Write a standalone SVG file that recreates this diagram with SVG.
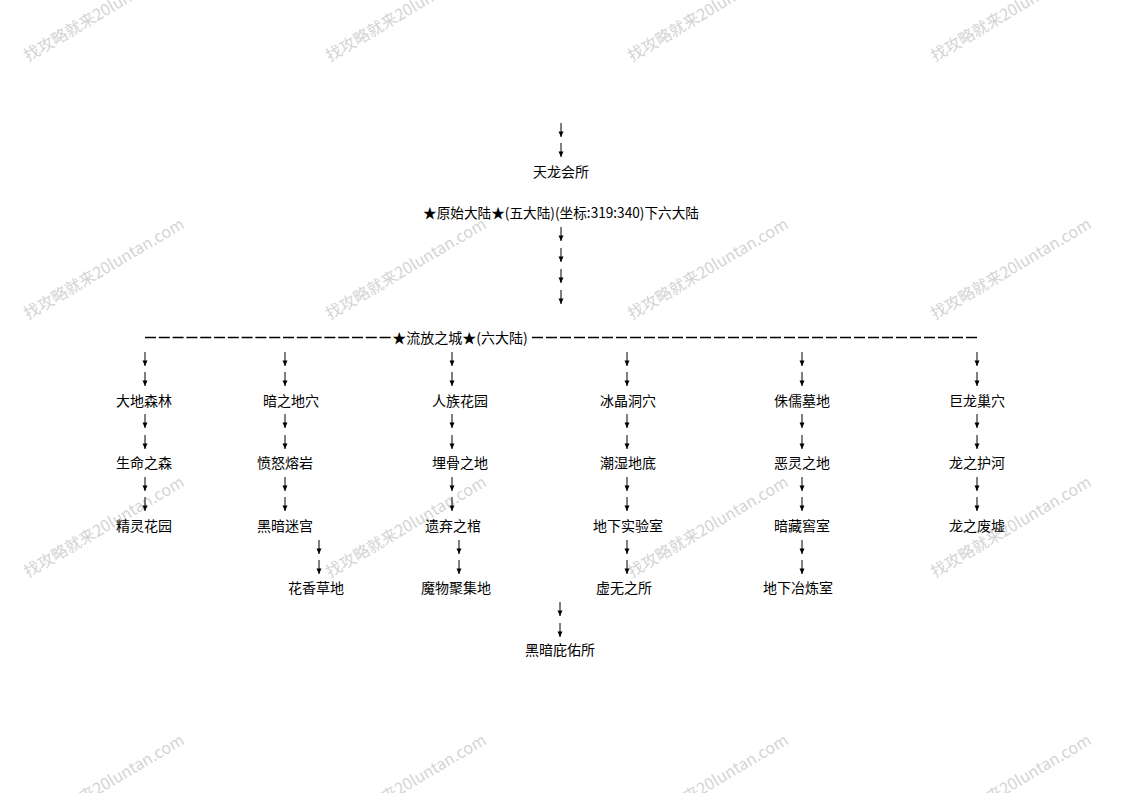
<svg xmlns="http://www.w3.org/2000/svg" xmlns:xlink="http://www.w3.org/1999/xlink" width="1122" height="793" viewBox="0 0 1122 793">
<style>
.lbl{font-family:"Noto Sans CJK SC","Liberation Sans",sans-serif;font-size:14px;fill:#000;text-anchor:middle}
.wm{font-family:"Noto Sans CJK SC","Liberation Sans",sans-serif;font-size:16px;fill:#d4d4d4}
.dash{stroke:#000;stroke-width:1.3;fill:none}
</style>
<defs>
<g id="arr"><path d="M0,0V14" stroke="#000" stroke-width="1"/><path d="M-2.5,8.5H2.5L0,14Z" fill="#000"/></g>
</defs>
<rect width="1122" height="793" fill="#fff"/>
<g id="watermarks">
<text class="wm" transform="translate(28,62) rotate(-30.5)">找攻略就来20luntan.com</text>
<text class="wm" transform="translate(330,62) rotate(-30.5)">找攻略就来20luntan.com</text>
<text class="wm" transform="translate(632,62) rotate(-30.5)">找攻略就来20luntan.com</text>
<text class="wm" transform="translate(935,62) rotate(-30.5)">找攻略就来20luntan.com</text>
<text class="wm" transform="translate(28,320) rotate(-30.5)">找攻略就来20luntan.com</text>
<text class="wm" transform="translate(330,320) rotate(-30.5)">找攻略就来20luntan.com</text>
<text class="wm" transform="translate(632,320) rotate(-30.5)">找攻略就来20luntan.com</text>
<text class="wm" transform="translate(935,320) rotate(-30.5)">找攻略就来20luntan.com</text>
<text class="wm" transform="translate(28,578) rotate(-30.5)">找攻略就来20luntan.com</text>
<text class="wm" transform="translate(330,578) rotate(-30.5)">找攻略就来20luntan.com</text>
<text class="wm" transform="translate(632,578) rotate(-30.5)">找攻略就来20luntan.com</text>
<text class="wm" transform="translate(935,578) rotate(-30.5)">找攻略就来20luntan.com</text>
<text class="wm" transform="translate(28,836) rotate(-30.5)">找攻略就来20luntan.com</text>
<text class="wm" transform="translate(330,836) rotate(-30.5)">找攻略就来20luntan.com</text>
<text class="wm" transform="translate(632,836) rotate(-30.5)">找攻略就来20luntan.com</text>
<text class="wm" transform="translate(935,836) rotate(-30.5)">找攻略就来20luntan.com</text>
</g>
<g id="connectors">
<path class="dash" d="M145,337.5H391" stroke-dasharray="11 2.8"/>
<path class="dash" d="M532,337.5H977" stroke-dasharray="11 3"/>
<use xlink:href="#arr" x="561" y="123"/>
<use xlink:href="#arr" x="561" y="143"/>
<use xlink:href="#arr" x="561" y="227"/>
<use xlink:href="#arr" x="561" y="248"/>
<use xlink:href="#arr" x="561" y="269"/>
<use xlink:href="#arr" x="561" y="290"/>
<use xlink:href="#arr" x="145" y="352"/><use xlink:href="#arr" x="145" y="372"/>
<use xlink:href="#arr" x="285" y="352"/><use xlink:href="#arr" x="285" y="372"/>
<use xlink:href="#arr" x="452" y="352"/><use xlink:href="#arr" x="452" y="372"/>
<use xlink:href="#arr" x="627" y="352"/><use xlink:href="#arr" x="627" y="372"/>
<use xlink:href="#arr" x="802" y="352"/><use xlink:href="#arr" x="802" y="372"/>
<use xlink:href="#arr" x="977" y="352"/><use xlink:href="#arr" x="977" y="372"/>
<use xlink:href="#arr" x="145" y="414"/><use xlink:href="#arr" x="145" y="435"/>
<use xlink:href="#arr" x="285" y="414"/><use xlink:href="#arr" x="285" y="435"/>
<use xlink:href="#arr" x="452" y="414"/><use xlink:href="#arr" x="452" y="435"/>
<use xlink:href="#arr" x="627" y="414"/><use xlink:href="#arr" x="627" y="435"/>
<use xlink:href="#arr" x="802" y="414"/><use xlink:href="#arr" x="802" y="435"/>
<use xlink:href="#arr" x="977" y="414"/><use xlink:href="#arr" x="977" y="435"/>
<use xlink:href="#arr" x="145" y="477"/><use xlink:href="#arr" x="145" y="497"/>
<use xlink:href="#arr" x="285" y="477"/><use xlink:href="#arr" x="285" y="497"/>
<use xlink:href="#arr" x="452" y="477"/><use xlink:href="#arr" x="452" y="497"/>
<use xlink:href="#arr" x="627" y="477"/><use xlink:href="#arr" x="627" y="497"/>
<use xlink:href="#arr" x="802" y="477"/><use xlink:href="#arr" x="802" y="497"/>
<use xlink:href="#arr" x="977" y="477"/><use xlink:href="#arr" x="977" y="497"/>
<use xlink:href="#arr" x="319" y="540"/><use xlink:href="#arr" x="319" y="560"/>
<use xlink:href="#arr" x="459" y="540"/><use xlink:href="#arr" x="459" y="560"/>
<use xlink:href="#arr" x="627" y="540"/><use xlink:href="#arr" x="627" y="560"/>
<use xlink:href="#arr" x="802" y="540"/><use xlink:href="#arr" x="802" y="560"/>
<use xlink:href="#arr" x="560" y="602"/><use xlink:href="#arr" x="560" y="623"/>
</g>
<g id="n-tianlong"><text class="lbl" x="561" y="177">天龙会所</text></g>
<g id="n-yuanshi"><text class="lbl" x="561" y="218" textLength="276" lengthAdjust="spacingAndGlyphs">★原始大陆★(五大陆)(坐标:319:340)下六大陆</text></g>
<g id="n-liufang"><text class="lbl" x="460" y="343">★流放之城★(六大陆)</text></g>
<g id="n-dadi"><text class="lbl" x="144" y="406">大地森林</text></g>
<g id="n-anzhi"><text class="lbl" x="291" y="406">暗之地穴</text></g>
<g id="n-renzu"><text class="lbl" x="460" y="406">人族花园</text></g>
<g id="n-bingjing"><text class="lbl" x="628" y="406">冰晶洞穴</text></g>
<g id="n-zhuru"><text class="lbl" x="802" y="406">侏儒墓地</text></g>
<g id="n-julong"><text class="lbl" x="977" y="406">巨龙巢穴</text></g>
<g id="n-shengming"><text class="lbl" x="144" y="468">生命之森</text></g>
<g id="n-fennu"><text class="lbl" x="285" y="468">愤怒熔岩</text></g>
<g id="n-maigu"><text class="lbl" x="460" y="468">埋骨之地</text></g>
<g id="n-chaoshi"><text class="lbl" x="628" y="468">潮湿地底</text></g>
<g id="n-eling"><text class="lbl" x="802" y="468">恶灵之地</text></g>
<g id="n-longhu"><text class="lbl" x="977" y="468">龙之护河</text></g>
<g id="n-jingling"><text class="lbl" x="144" y="531">精灵花园</text></g>
<g id="n-heianmigong"><text class="lbl" x="285" y="531">黑暗迷宫</text></g>
<g id="n-yiqi"><text class="lbl" x="453" y="531">遗弃之棺</text></g>
<g id="n-dixiashiyan"><text class="lbl" x="628" y="531">地下实验室</text></g>
<g id="n-ancang"><text class="lbl" x="802" y="531">暗藏窖室</text></g>
<g id="n-longfei"><text class="lbl" x="977" y="531">龙之废墟</text></g>
<g id="n-huaxiang"><text class="lbl" x="316" y="593">花香草地</text></g>
<g id="n-mowu"><text class="lbl" x="456" y="593">魔物聚集地</text></g>
<g id="n-xuwu"><text class="lbl" x="624" y="593">虚无之所</text></g>
<g id="n-yelian"><text class="lbl" x="798" y="593">地下冶炼室</text></g>
<g id="n-biyou"><text class="lbl" x="560" y="655">黑暗庇佑所</text></g>
</svg>
